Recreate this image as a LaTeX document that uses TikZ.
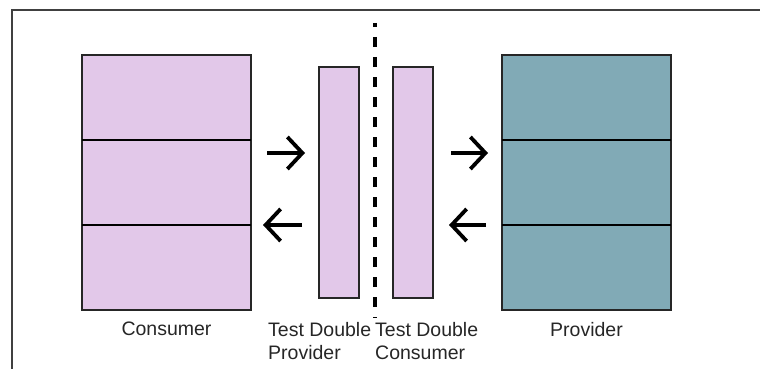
\documentclass[tikz,border=0pt]{standalone}
\usepackage{fontspec}
\setmainfont{Liberation Sans}
\usetikzlibrary{arrows.meta}

\definecolor{lilac}{HTML}{E2C8E9}
\definecolor{teal}{HTML}{81AAB6}
\definecolor{edge}{HTML}{262626}
\definecolor{labelgray}{HTML}{262626}

\tikzset{
  block/.style={draw=edge, line width=1.3pt, inner sep=0pt, outer sep=0pt},
  divider/.style={draw=black, line width=2.6pt},
  flow/.style={draw=black, line width=3.8pt,
    -{Straight Barb[length=15pt, width=32pt, line width=3.8pt]}},
  caption/.style={text=labelgray, inner sep=0pt, align=left,
    font=\fontsize{19.5}{23}\selectfont},
  frameline/.style={draw=black!75, line width=1.4pt},
  split/.style={draw=black, line width=4pt, dash pattern=on 10pt off 10pt, dash phase=6pt}
}

\begin{document}
\begin{tikzpicture}[x=1pt, y=-1pt]
  \useasboundingbox (0,0) rectangle (760,369);

  % outer frame (top and left edges)
  \draw[frameline] (12,369) -- (12,10) -- (760,10);

  % main components
  \node[block, fill=lilac, minimum width=169pt, minimum height=255pt] (cons) at (166.5,182.5) {};
  \node[block, fill=teal,  minimum width=169pt, minimum height=255pt] (prov) at (586.5,182.5) {};

  % test doubles
  \node[block, fill=lilac, minimum width=40pt, minimum height=231pt] (tdp) at (339,182.5) {};
  \node[block, fill=lilac, minimum width=40pt, minimum height=231pt] (tdc) at (413,182.5) {};

  % section dividers
  \draw[divider] (cons.west |- 0,140) -- (cons.east |- 0,140);
  \draw[divider] (cons.west |- 0,225) -- (cons.east |- 0,225);
  \draw[divider] (prov.west |- 0,140) -- (prov.east |- 0,140);
  \draw[divider] (prov.west |- 0,225) -- (prov.east |- 0,225);

  % separation line between the two test doubles
  \coordinate (splittop) at (375,23);
  \coordinate (splitbot) at (375,318);
  \draw[split] (splittop) -- (splitbot);

  % request / response arrows
  \draw[flow, shorten <=16pt, shorten >=14pt] (cons.east |- 0,153) -- (tdp.west |- 0,153);
  \draw[flow, shorten <=17pt, shorten >=12pt] (tdp.west |- 0,225) -- (cons.east |- 0,225);
  \draw[flow, shorten <=18pt, shorten >=14pt] (tdc.east |- 0,153) -- (prov.west |- 0,153);
  \draw[flow, shorten <=16pt, shorten >=16pt] (prov.west |- 0,225) -- (tdc.east |- 0,225);

  % captions
  \node[caption, anchor=north] (lcons) at (166.5,322) {Consumer};
  \node[caption, anchor=north] (lprov) at (586.5,322) {Provider};
  \node[caption, anchor=north west] (ltdp) at (268,322) {Test Double\\Provider};
  \node[caption, anchor=north west] (ltdc) at (375,322) {Test Double\\Consumer};
\end{tikzpicture}
\end{document}
